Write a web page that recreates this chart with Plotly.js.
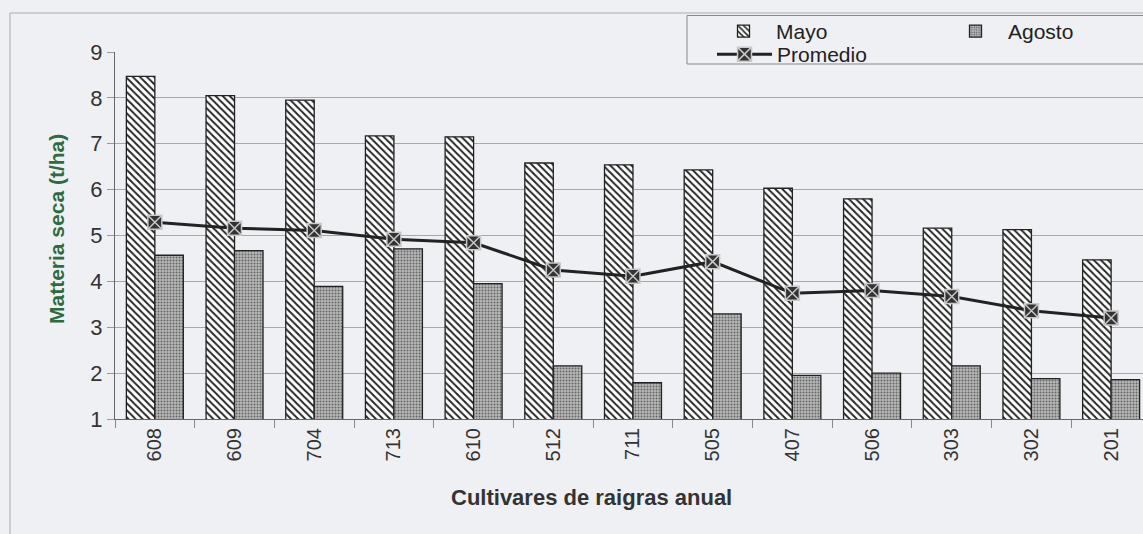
<!DOCTYPE html>
<html>
<head>
<meta charset="utf-8">
<script src="https://cdn.plot.ly/plotly-3.0.1.min.js"></script>
<style>
html,body{margin:0;padding:0;background:#eff0f3;overflow:hidden;}
#chart{width:1143px;height:534px;}
</style>
</head>
<body>
<div id="chart"></div>
<script>
var cultivares = ["608","609","704","713","610","512","711","505","407","506","303","302","201"];
var mayo     = [8.47, 8.05, 7.95, 7.17, 7.15, 6.58, 6.54, 6.43, 6.03, 5.80, 5.16, 5.13, 4.47];
var agosto   = [4.57, 4.67, 3.89, 4.71, 3.95, 2.16, 1.79, 3.29, 1.95, 2.00, 2.16, 1.88, 1.86];
var promedio = [5.29, 5.16, 5.11, 4.92, 4.84, 4.25, 4.11, 4.43, 3.74, 3.80, 3.67, 3.36, 3.20];

var font = "Liberation Sans, Arial, sans-serif";
var bg = "#eff0f3";
// plot area in pixels
var L = 115, T = 52, W = 1028, H = 367;
function px(x) { return (x - L) / W; }
function py(y) { return (T + H - y) / H; }

var traces = [
  {
    type: "bar", name: "Mayo", x: cultivares, y: mayo, legend: "legend",
    marker: {
      color: "#ffffff",
      line: {color: "#222", width: 1.3},
      pattern: {shape: "\\", fgcolor: "#222", bgcolor: "#ffffff", size: 5, solidity: 0.38}
    }
  },
  {
    type: "bar", name: "Agosto", x: cultivares, y: agosto, legend: "legend2",
    marker: {
      color: "#aaaaaa",
      line: {color: "#222", width: 1.3},
      pattern: {shape: ".", fgcolor: "#666666", bgcolor: "#b8b8b8", size: 3, solidity: 0.35}
    }
  },
  {
    type: "scatter", mode: "lines+markers", name: "Promedio", x: cultivares, y: promedio, legend: "legend3",
    line: {color: "#222", width: 3},
    marker: {symbol: "square-x", size: 14, color: "#333333", line: {color: "#c8c8c8", width: 1.5}}
  }
];

function leg(x, y) {
  return {
    orientation: "v", x: px(x), xanchor: "left", y: py(y), yanchor: "top",
    bgcolor: "rgba(0,0,0,0)", borderwidth: 0,
    font: {family: font, size: 21, color: "#222"},
    itemwidth: 55
  };
}

var layout = {
  width: 1143, height: 534,
  paper_bgcolor: bg, plot_bgcolor: bg,
  margin: {l: L, r: 1143 - L - W, t: T, b: 534 - T - H},
  font: {family: font, color: "#333"},
  barmode: "group", bargap: 0.285, bargroupgap: 0,
  showlegend: true,
  legend: leg(711, 11),
  legend2: leg(943, 11),
  legend3: leg(712, 34),
  xaxis: {
    type: "category", range: [-0.5, 12.4],
    tickangle: -90, tickfont: {family: font, size: 20, color: "#333"},
    ticks: "outside", tickson: "boundaries", ticklen: 8, tickcolor: "#888",
    showline: true, linecolor: "#666", linewidth: 1,
    showgrid: false, zeroline: false
  },
  yaxis: {
    range: [1, 9], dtick: 1, tick0: 1,
    tickfont: {family: font, size: 22, color: "#333"},
    ticks: "outside", ticklen: 7, tickcolor: "#999",
    showgrid: true, gridcolor: "#a8a8a8", gridwidth: 1,
    showline: true, linecolor: "#666", linewidth: 1, zeroline: false
  },
  annotations: [
    {text: "<b>Cultivares de raigras anual</b>", xref: "paper", yref: "paper",
     x: px(591), y: py(497), xanchor: "center", yanchor: "middle",
     showarrow: false, font: {family: font, size: 22, color: "#333"}},
    {text: "<b>Matteria seca (t/ha)</b>", xref: "paper", yref: "paper", textangle: -90,
     x: px(56), y: py(229), xanchor: "center", yanchor: "middle",
     showarrow: false, font: {family: font, size: 21, color: "#2e6b3e"}}
  ],
  shapes: [
    {type: "rect", xref: "paper", yref: "paper",
     x0: px(10), x1: 1.2, y0: -0.6, y1: py(13),
     line: {color: "#aaa", width: 1}, fillcolor: "rgba(0,0,0,0)", layer: "below"},
    {type: "rect", xref: "paper", yref: "paper",
     x0: px(687), x1: 1.1, y0: py(64), y1: py(15.5),
     line: {color: "#888", width: 1}, fillcolor: bg, layer: "above"}
  ]
};

Plotly.newPlot("chart", traces, layout, {displayModeBar: false, staticPlot: true});
</script>
</body>
</html>
